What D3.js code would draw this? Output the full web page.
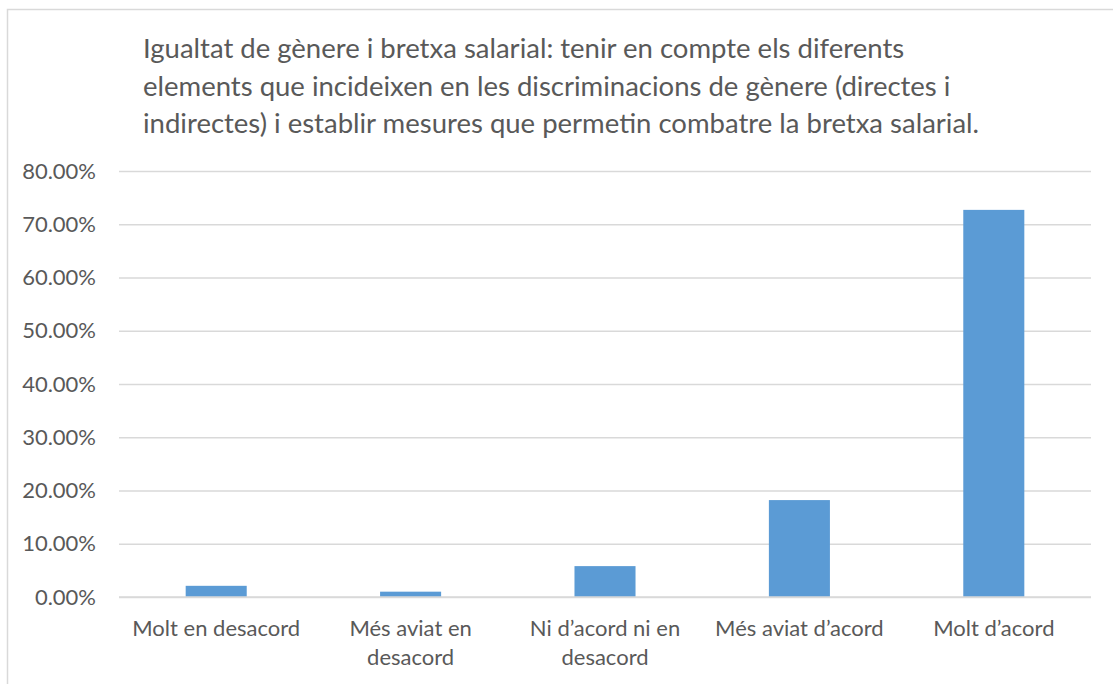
<!DOCTYPE html>
<html>
<head>
<meta charset="utf-8">
<script src="https://cdn.jsdelivr.net/npm/d3@7"></script>
<style>
    body { margin: 0; background: #fff; }
    svg text { font-family: Lato, "Open Sans", sans-serif; fill: #595959; }
</style>
</head>
<body>
<div id="root"></div>
<script>
// values
const titleLines = [
    "Igualtat de gènere i bretxa salarial: tenir en compte els diferents",
    "elements que incideixen en les discriminacions de gènere (directes i",
    "indirectes) i establir mesures que permetin combatre la bretxa salarial."
];
const categories = ["Molt en desacord", "Més aviat en desacord", "Ni d’acord ni en desacord", "Més aviat d’acord", "Molt d’acord"];
const values = [0.021, 0.010, 0.058, 0.182, 0.727];
const yTicks = [0, 0.1, 0.2, 0.3, 0.4, 0.5, 0.6, 0.7, 0.8];

const width = 1113, height = 684;
const margin = { top: 171, right: 22, bottom: 87, left: 119 };

const svg = d3.select("#root")
    .append("svg")
    .attr("width", width)
    .attr("height", height);

// chart area border (runs off the right and bottom edge)
svg.append("rect")
    .attr("x", 7.5)
    .attr("y", 9.5)
    .attr("width", 1300)
    .attr("height", 1000)
    .attr("fill", "#fff")
    .attr("stroke", "#d9d9d9")
    .attr("stroke-width", 1.5);

// title, left aligned, three lines
svg.append("text")
    .attr("id", "title")
    .style("font-size", "27.5px")
    .selectAll("tspan")
    .data(titleLines)
    .enter()
    .append("tspan")
        .attr("x", 143)
        .attr("y", (d, i) => 58 + i * 37.5)
        .text(d => d);

const x = d3.scaleBand()
    .domain(categories)
    .range([margin.left, width - margin.right])
    .paddingInner(0.686)
    .paddingOuter(0.343);

const y = d3.scaleLinear()
    .domain([0, 0.8])
    .range([height - margin.bottom, margin.top]);

// gridlines + y labels
const yAxis = svg.append("g")
    .attr("transform", `translate(${margin.left},0)`)
    .call(d3.axisLeft(y)
        .tickValues(yTicks)
        .tickFormat(d3.format(".2%"))
        .tickSize(-(width - margin.left - margin.right))
        .tickPadding(23));
yAxis.select(".domain").remove();
yAxis.selectAll(".tick line")
    .attr("stroke", "#d9d9d9")
    .attr("stroke-width", 1.5);
yAxis.selectAll(".tick text")
    .style("font-size", "22px")
    .attr("fill", "#595959");

// bars
svg.selectAll("rect.bar")
    .data(values)
    .enter()
    .append("rect")
        .attr("class", "bar")
        .attr("x", (d, i) => x(categories[i]))
        .attr("width", x.bandwidth())
        .attr("y", d => y(d))
        .attr("height", d => y(0) - y(d))
        .attr("fill", "#5b9bd5");

// x axis line drawn again above bars
svg.append("line")
    .attr("x1", margin.left)
    .attr("x2", width - margin.right)
    .attr("y1", y(0))
    .attr("y2", y(0))
    .attr("stroke", "#d9d9d9")
    .attr("stroke-width", 1.5);

// category labels, wrapped to the band step
const xAxis = svg.append("g")
    .attr("transform", `translate(0,${y(0)})`)
    .call(d3.axisBottom(x).tickSize(0).tickPadding(0));
xAxis.select(".domain").remove();
xAxis.selectAll(".tick text")
    .style("font-size", "22px")
    .attr("fill", "#595959")
    .call(wrap, x.step() - 8);

function wrap(texts, maxWidth) {
    texts.each(function() {
        const text = d3.select(this);
        const words = text.text().split(" ");
        text.text(null).attr("dy", null);
        let line = [];
        let lineNo = 0;
        let tspan = text.append("tspan").attr("x", 0).attr("y", 39);
        words.forEach(w => {
            line.push(w);
            tspan.text(line.join(" "));
            if (tspan.node().getComputedTextLength() > maxWidth && line.length > 1) {
                line.pop();
                tspan.text(line.join(" "));
                line = [w];
                lineNo++;
                tspan = text.append("tspan")
                    .attr("x", 0)
                    .attr("y", 39 + lineNo * 29)
                    .text(w);
            }
        });
    });
}
</script>
</body>
</html>
